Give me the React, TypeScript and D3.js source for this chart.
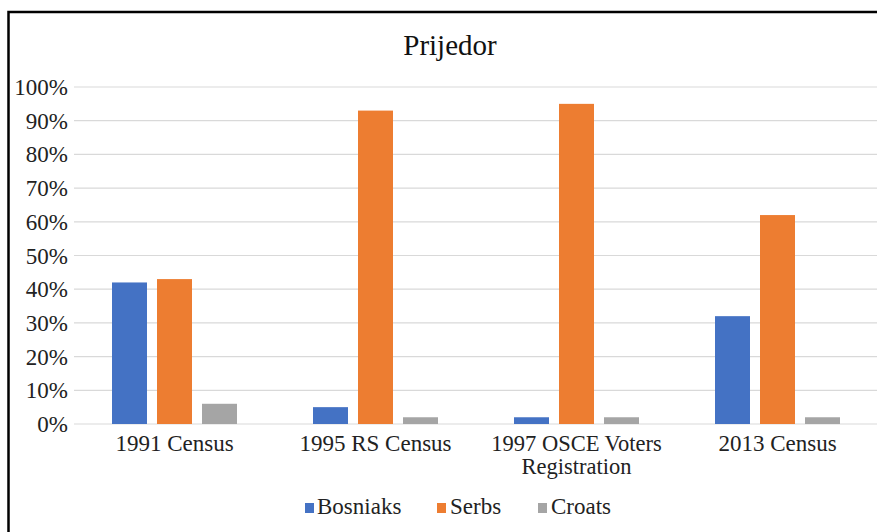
import React from "react";
import * as d3 from "d3";

const categories = ["1991 Census", "1995 RS Census", "1997 OSCE Voters Registration", "2013 Census"];
const categoryLines = [["1991 Census"], ["1995 RS Census"], ["1997 OSCE Voters", "Registration"], ["2013 Census"]];
const seriesNames = ["Bosniaks", "Serbs", "Croats"];
const bosniaks = [42, 5, 2, 32];
const serbs = [43, 93, 95, 62];
const croats = [6, 2, 2, 2];
const seriesValues = [bosniaks, serbs, croats];
const yTicks = [0, 10, 20, 30, 40, 50, 60, 70, 80, 90, 100];
const colors = ["#4472C4", "#ED7D31", "#A5A5A5"];

const W = 877;
const H = 532;
const FONT = "'Liberation Serif', 'Times New Roman', serif";

export default function App() {
  const x = d3.scaleBand<string>().domain(categories).range([74, 878]).paddingInner(0).paddingOuter(0);
  const y = d3.scaleLinear().domain([0, 100]).range([424, 87]);
  const inner = d3
    .scaleBand<string>()
    .domain(seriesNames)
    .range([-62.5, 62.5])
    .paddingInner(10 / 45)
    .paddingOuter(0);

  const legendItems = [
    { name: "Bosniaks", sx: 305, tx: 317 },
    { name: "Serbs", sx: 437, tx: 450 },
    { name: "Croats", sx: 538, tx: 551 },
  ];

  return (
    <div style={{ position: "absolute", left: 0, top: 0 }}>
      <svg width={W} height={H} style={{ display: "block", background: "#fff" }}>
        <rect x={0} y={0} width={W} height={H} fill="#fff" />
        <rect x={8.5} y={12} width={W + 20} height={H + 20} fill="none" stroke="#000" strokeWidth={2.5} />
        <text x={450} y={55} textAnchor="middle" fontFamily={FONT} fontSize={29} fill="#111">
          Prijedor
        </text>
        {yTicks.map((t) => (
          <g key={t}>
            <line x1={74} x2={878} y1={y(t)} y2={y(t)} stroke="#d9d9d9" strokeWidth={1.2} />
            <text x={68} y={y(t) + 8} textAnchor="end" fontFamily={FONT} fontSize={23} fill="#222">
              {t}%
            </text>
          </g>
        ))}
        {categories.map((c, ci) => {
          const cx = (x(c) as number) + x.bandwidth() / 2;
          return (
            <g key={c}>
              {seriesNames.map((s, si) => {
                const v = seriesValues[si][ci];
                return (
                  <rect
                    key={s}
                    x={cx + (inner(s) as number)}
                    y={y(v)}
                    width={inner.bandwidth()}
                    height={y(0) - y(v)}
                    fill={colors[si]}
                  />
                );
              })}
              {categoryLines[ci].map((line, li) => (
                <text
                  key={li}
                  x={cx}
                  y={451 + li * 23}
                  textAnchor="middle"
                  fontFamily={FONT}
                  fontSize={categoryLines[ci].length > 1 ? 22.5 : 23}
                  fill="#222"
                >
                  {line}
                </text>
              ))}
            </g>
          );
        })}
        {legendItems.map((it, i) => (
          <g key={it.name}>
            <rect x={it.sx} y={503} width={9} height={10} fill={colors[i]} />
            <text x={it.tx} y={514} fontFamily={FONT} fontSize={23} fill="#222">
              {it.name}
            </text>
          </g>
        ))}
      </svg>
    </div>
  );
}
